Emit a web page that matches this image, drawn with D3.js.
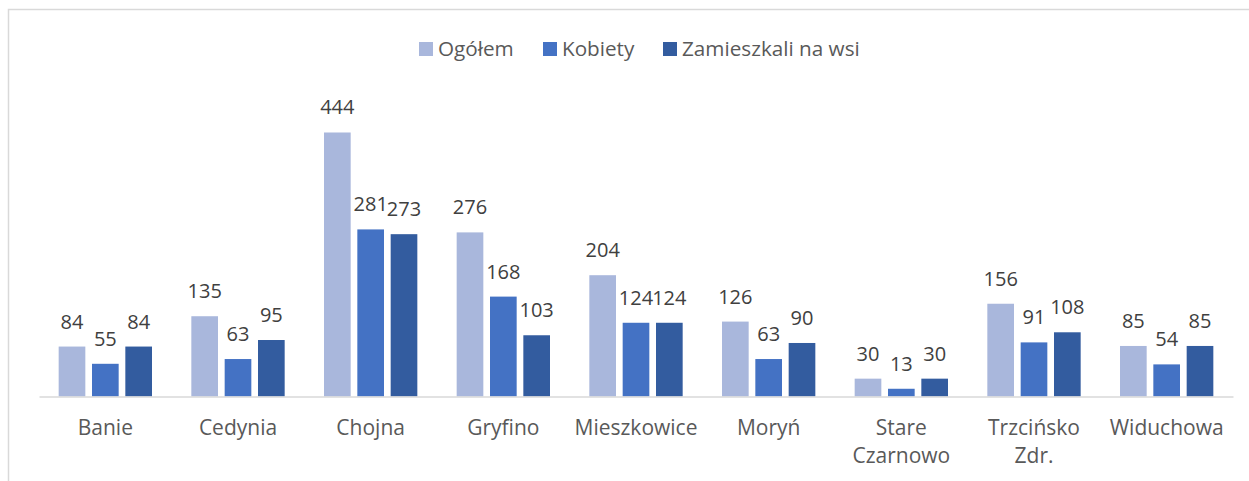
<!DOCTYPE html>
<html>
<head>
<meta charset="utf-8">
<script src="https://cdn.jsdelivr.net/npm/d3@7"></script>
<style>
  html, body { margin: 0; padding: 0; background: #fff; }
  svg { display: block; }
</style>
</head>
<body>
<svg id="chart" width="1249" height="481"></svg>
<script>
const categories = ["Banie", "Cedynia", "Chojna", "Gryfino", "Mieszkowice", "Moryń", "Stare\nCzarnowo", "Trzcińsko\nZdr.", "Widuchowa"];
const seriesNames = ["Ogółem", "Kobiety", "Zamieszkali na wsi"];
const ogolem = [84, 135, 444, 276, 204, 126, 30, 156, 85];
const kobiety = [55, 63, 281, 168, 124, 63, 13, 91, 54];
const wies = [84, 95, 273, 103, 124, 90, 30, 108, 85];
const colors = ["#A9B7DC", "#4472C4", "#335C9F"];

const seriesValues = [ogolem, kobiety, wies];
const font = "'Open Sans', 'Noto Sans', sans-serif";

const svg = d3.select("#chart");

// outer border
svg.append("rect")
  .attr("x", 8.5).attr("y", 9.5)
  .attr("width", 1260).attr("height", 500)
  .attr("fill", "none").attr("stroke", "#D9D9D9").attr("stroke-width", 1.5);

const x0 = d3.scaleBand().domain(categories).range([39, 1233]).padding(0);
const x1 = d3.scaleBand().domain(seriesNames).range([0, x0.bandwidth()])
  .paddingInner(0.2).paddingOuter(0.59);
const y = d3.scaleLinear().domain([0, 500]).range([396.5, 99.2]);

// bars
categories.forEach((c, i) => {
  const g = svg.append("g").attr("transform", `translate(${x0(c)},0)`);
  seriesNames.forEach((s, j) => {
    const v = seriesValues[j][i];
    g.append("rect")
      .attr("x", x1(s)).attr("y", y(v))
      .attr("width", x1.bandwidth()).attr("height", y(0) - y(v))
      .attr("fill", colors[j]);
    g.append("text")
      .attr("x", x1(s) + x1.bandwidth() / 2)
      .attr("y", y(v) - 18)
      .attr("text-anchor", "middle")
      .attr("font-family", font).attr("font-size", 20)
      .attr("fill", "#404040")
      .text(v);
  });
});

// x axis
const xAxis = d3.axisBottom(x0).tickSize(0).tickPadding(0);
const ax = svg.append("g").attr("transform", `translate(0,${y(0)})`).call(xAxis);
ax.select(".domain").attr("stroke", "#D9D9D9").attr("stroke-width", 1.5);
ax.selectAll(".tick text").each(function(d) {
  const t = d3.select(this);
  t.text(null)
    .attr("font-family", font).attr("font-size", 21).attr("fill", "#595959")
    .attr("y", 0).attr("dy", null);
  d.split("\n").forEach((line, k) => {
    t.append("tspan").attr("x", 0).attr("y", 38.5 + k * 28).text(line);
  });
});

// legend
const legend = svg.append("g");
const legendItems = [
  { name: seriesNames[0], x: 419 },
  { name: seriesNames[1], x: 543 },
  { name: seriesNames[2], x: 663 }
];
legendItems.forEach((it, j) => {
  legend.append("rect").attr("x", it.x).attr("y", 42).attr("width", 14).attr("height", 14)
    .attr("fill", colors[j]);
  legend.append("text").attr("x", it.x + 19).attr("y", 55.5)
    .attr("font-family", font).attr("font-size", 20.7).attr("fill", "#595959")
    .text(it.name);
});
</script>
</body>
</html>
